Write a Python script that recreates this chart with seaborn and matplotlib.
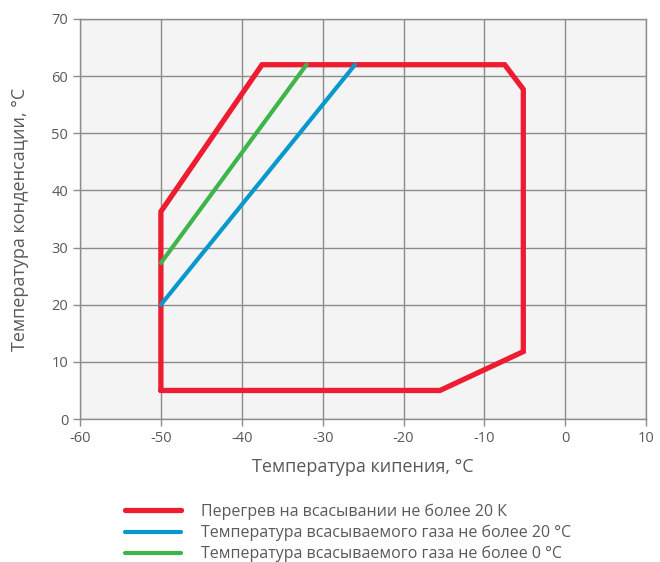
import matplotlib
matplotlib.use("Agg")
import matplotlib.pyplot as plt
import pandas as pd
import seaborn as sns

sns.set_theme(style="whitegrid")
plt.rcParams['font.family'] = ['Open Sans', 'DejaVu Sans']
plt.rcParams['axes.unicode_minus'] = False

# envelope: superheat on suction <= 20 K
red_x = [-50, -50, -37.5, -7.5, -5.2, -5.2, -15.5, -50]
red_y = [5, 36.3, 62, 62, 57.7, 11.8, 5, 5]
# suction gas temperature <= 20 C
blue_x = [-50, -26]
blue_y = [20, 62]
# suction gas temperature <= 0 C
green_x = [-50, -32]
green_y = [27.3, 62]

labels = ["Перегрев на всасывании не более 20 К",
          "Температура всасываемого газа не более 20 °С",
          "Температура всасываемого газа не более 0 °С"]
colors = ["#ee1c31", "#0899cc", "#3db54a"]

xticks = list(range(-60, 11, 10))
yticks = list(range(0, 71, 10))

fig = plt.figure(figsize=(6.6, 5.62), dpi=100)
ax = fig.add_axes([0.1212, 0.2544, 0.858, 0.7118])
ax.set_facecolor("#f4f4f4")

series = [(red_x, red_y, 3.8), (blue_x, blue_y, 3.0), (green_x, green_y, 3.0)]
for (xs, ys, lw), lab, c in zip(series, labels, colors):
    df = pd.DataFrame({'x': xs, 'y': ys})
    sns.lineplot(data=df, x='x', y='y', sort=False, estimator=None,
                 color=c, lw=lw, ax=ax, label=lab, solid_joinstyle='miter')
handles, lbls = ax.get_legend_handles_labels()
ax.get_legend().remove()

ax.set_xlim(-60, 10)
ax.set_ylim(0, 70)
ax.set_xticks(xticks)
ax.set_yticks(yticks)
ax.grid(True, color="#8c8c8c", lw=1.0)
for s in ax.spines.values():
    s.set_color("#8c8c8c")
    s.set_linewidth(1.0)
ax.tick_params(axis='both', colors="#8c8c8c", labelcolor="#595959",
               labelsize=10.5, length=5, width=1.0, direction='out',
               left=True, bottom=True)
ax.set_xlabel("Температура кипения, °С", fontsize=13, color="#595959", labelpad=9)
ax.set_ylabel("Температура конденсации, °С", fontsize=13, color="#595959", labelpad=16)

fig.legend(handles, lbls, loc='upper left', bbox_to_anchor=(0.178, 0.118),
           frameon=False, fontsize=11.5, labelcolor="#595959",
           handlelength=3.5, handletextpad=1.2, labelspacing=0.3, borderpad=0)

fig.savefig("out.png", dpi=100)
